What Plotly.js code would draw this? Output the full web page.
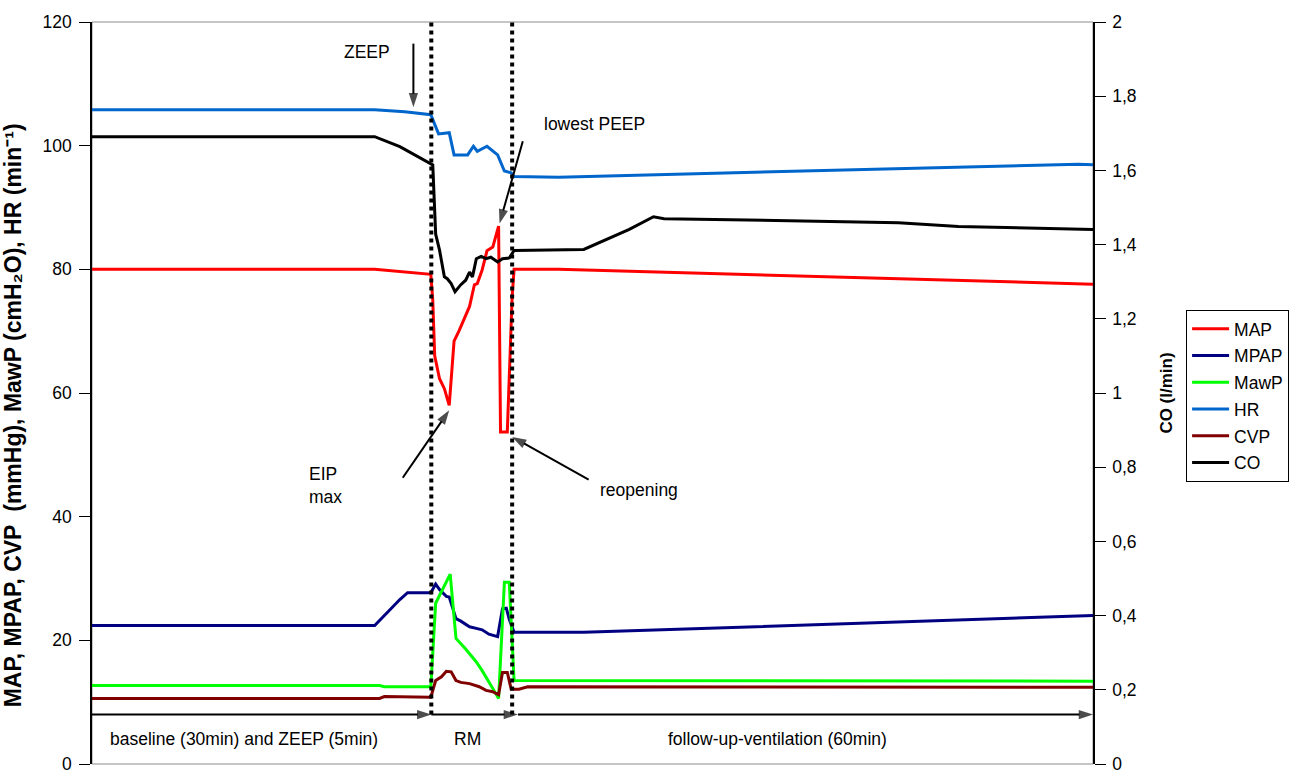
<!DOCTYPE html>
<html>
<head>
<meta charset="utf-8">
<script src="https://cdn.plot.ly/plotly-3.0.1.min.js"></script>
<style>html,body{margin:0;padding:0;background:#fff;}#chart{width:1301px;height:776px;}</style>
</head>
<body>
<div id="chart"></div>
<script>
// time axis in minutes (baseline 30 + ZEEP 5, RM, follow-up 60)
const seriesNames = ['MAP', 'MPAP', 'MawP', 'HR', 'CVP', 'CO'];

const mapT  = [0, 29.2, 35.0, 35.2, 35.4, 35.9, 36.4, 36.9, 37.4, 37.9, 39.0, 39.5, 39.8, 40.3, 40.8, 41.4, 42.0, 42.2, 42.9, 43.4, 43.6, 48.2, 103.4];
const mapV  = [80.0, 80.0, 79.2, 75.0, 66.0, 62.3, 60.7, 58.0, 68.4, 70.0, 74.0, 77.5, 77.7, 79.9, 83.0, 83.6, 87.0, 53.7, 53.7, 75.6, 80.0, 80.0, 77.6];

const mpapT = [0, 29.2, 31.8, 32.6, 35.0, 35.5, 35.9, 36.6, 36.9, 37.6, 38.1, 39.0, 39.8, 40.3, 41.0, 41.9, 42.4, 42.8, 43.1, 43.6, 50.8, 103.4];
const mpapV = [22.4, 22.4, 26.6, 27.7, 27.7, 29.1, 28.2, 27.1, 27.0, 23.5, 23.1, 22.2, 21.9, 21.7, 21.0, 20.6, 25.1, 25.2, 23.4, 21.3, 21.3, 24.0];

const mawpT = [0, 29.7, 30.2, 35.0, 35.5, 37.0, 37.6, 38.6, 39.7, 40.3, 41.4, 42.0, 42.6, 43.1, 43.6, 103.4];
const mawpV = [12.7, 12.7, 12.5, 12.5, 26.0, 30.7, 20.3, 18.6, 16.5, 15.1, 12.2, 10.6, 29.4, 29.4, 13.5, 13.4];

const hrT   = [0, 29.2, 32.3, 35.0, 35.8, 36.9, 37.4, 38.8, 39.4, 39.8, 40.8, 41.9, 42.6, 43.3, 43.6, 48.2, 101.9, 103.4];
const hrV   = [105.8, 105.8, 105.5, 105.0, 101.9, 102.1, 98.5, 98.5, 99.9, 99.1, 99.9, 98.5, 95.9, 95.6, 95.0, 94.9, 97.0, 96.9];

const cvpT  = [0, 29.7, 30.2, 35.0, 35.5, 36.1, 36.6, 37.1, 37.6, 38.1, 39.0, 39.5, 40.0, 40.7, 41.4, 42.0, 42.4, 42.9, 43.3, 44.1, 44.6, 45.0, 103.4];
const cvpV  = [10.6, 10.6, 10.9, 10.8, 13.5, 14.1, 15.0, 14.9, 13.5, 13.2, 13.0, 12.7, 12.5, 11.9, 11.7, 11.2, 14.8, 14.8, 12.1, 12.1, 12.3, 12.5, 12.4];

const coT   = [0, 29.2, 31.8, 35.0, 35.2, 35.5, 35.9, 36.4, 36.7, 37.1, 37.5, 38.1, 38.6, 39.0, 39.3, 39.7, 40.2, 40.7, 41.2, 41.9, 42.4, 43.1, 43.6, 50.8, 55.5, 58.0, 59.1, 83.3, 89.5, 103.4];
const coV   = [1.691, 1.691, 1.664, 1.617, 1.615, 1.428, 1.385, 1.313, 1.308, 1.295, 1.273, 1.292, 1.304, 1.326, 1.313, 1.362, 1.368, 1.362, 1.366, 1.353, 1.362, 1.364, 1.384, 1.387, 1.441, 1.475, 1.470, 1.459, 1.449, 1.441];

// event markers (start / end of recruitment manoeuvre), minutes
const eventTimes = [35.05, 43.4];
// phase bands
const phaseStart = [0, 35.05, 44.0];
const phaseEnd   = [35.05, 44.0, 103.4];
const phaseLabel = ['baseline (30min) and ZEEP (5min)', 'RM', 'follow-up-ventilation (60min)'];
const phaseLabelT = [15.7, 38.8, 70.8];
const phaseArrowY = 8;
const phaseLabelY = 4.0;

// event callouts: text, text position, arrow tail, arrow head
const calloutText  = ['ZEEP', 'lowest PEEP', 'EIP<br>max', 'reopening'];
const calloutTextT = [28.4, 51.9, 22.2, 56.5];
const calloutTextY = [115.2, 103.5, 45.0, 44.3];
const calloutTailT = [33.2, 44.5, 32.1, 51.3];
const calloutTailY = [116.5, 100.7, 46.3, 46.0];
const calloutHeadT = [33.2, 42.1, 36.9, 43.4];
const calloutHeadY = [106.2, 87.4, 57.2, 52.9];

const leftTicks = [0, 20, 40, 60, 80, 100, 120];
const rightTicks = [0, 0.2, 0.4, 0.6, 0.8, 1, 1.2, 1.4, 1.6, 1.8, 2];

// ---- styles ----
const colors = {MAP:'#ff0000', MPAP:'#000080', MawP:'#00ff00', HR:'#0066cc', CVP:'#800000', CO:'#000000'};
const FONT = 'Liberation Sans, Arial, Helvetica, sans-serif';
const TXT = 17.5;

const data = [
  [mapT, mapV, 'MAP', 'y'],
  [mpapT, mpapV, 'MPAP', 'y'],
  [mawpT, mawpV, 'MawP', 'y'],
  [hrT, hrV, 'HR', 'y'],
  [cvpT, cvpV, 'CVP', 'y'],
  [coT, coV, 'CO', 'y2']
].map(function (s) {
  return {
    x: s[0], y: s[1], name: s[2], yaxis: s[3], legendgroup: s[2],
    type: 'scatter', mode: 'lines',
    line: {color: colors[s[2]], width: 3},
    hoverinfo: 'x+y+name'
  };
});

// arrows drawn as line traces with an arrow marker at the head
function arrowTrace(tx, ty, hx, hy) {
  return {
    x: [tx, hx], y: [ty, hy], type: 'scatter', mode: 'lines+markers',
    line: {color: '#000', width: 2},
    marker: {symbol: 'arrow', angleref: 'previous', size: [0, 15], color: '#000',
      line: {width: 0}},
    showlegend: false, hoverinfo: 'skip', yaxis: 'y'
  };
}
for (let i = 0; i < phaseStart.length; i++) {
  data.push(arrowTrace(phaseStart[i], phaseArrowY, phaseEnd[i], phaseArrowY));
}
for (let i = 0; i < calloutText.length; i++) {
  data.push(arrowTrace(calloutTailT[i], calloutTailY[i], calloutHeadT[i], calloutHeadY[i]));
}

const annFont = {family: FONT, size: TXT, color: '#000'};
const annotations = [];
function label(t, y, txt, xanchor) {
  annotations.push({x: t, y: y, xref: 'x', yref: 'y', text: txt, showarrow: false,
    xanchor: xanchor || 'center', yanchor: 'middle', align: 'left', font: annFont});
}
for (let i = 0; i < phaseLabel.length; i++) label(phaseLabelT[i], phaseLabelY, phaseLabel[i]);
for (let i = 0; i < calloutText.length; i++) {
  label(calloutTextT[i], calloutTextY[i], calloutText[i], calloutText[i].indexOf('<br>') >= 0 ? 'left' : 'center');
}

const shapes = [
  {type: 'rect', xref: 'paper', yref: 'paper', x0: 0, x1: 1, y0: 0, y1: 1,
   line: {color: '#8c8c8c', width: 1}, layer: 'below'}
];
eventTimes.forEach(function (t) {
  shapes.push({type: 'line', xref: 'x', yref: 'y', x0: t, x1: t, y0: phaseArrowY, y1: 120,
    line: {color: '#000', width: 4, dash: 'dot'}});
});

const layout = {
  width: 1301, height: 776,
  margin: {l: 92, r: 206, t: 22, b: 12},
  paper_bgcolor: '#fff', plot_bgcolor: '#fff',
  separators: ',.',
  font: {family: FONT, size: TXT, color: '#000'},
  showlegend: true,
  legend: {x: 1.093, y: 0.612, xanchor: 'left', yanchor: 'top',
    bordercolor: '#000', borderwidth: 1, bgcolor: '#fff', itemwidth: 37,
    font: {family: FONT, size: TXT, color: '#000'}, tracegroupgap: 1, traceorder: 'grouped'},
  xaxis: {range: [0, 103.4], showgrid: false, zeroline: false, showticklabels: false,
    ticks: '', showline: false, fixedrange: true},
  yaxis: {range: [0, 120], tickvals: leftTicks, ticks: 'outside', ticklen: 11, tickcolor: '#000',
    showline: true, linecolor: '#000', linewidth: 1.5, showgrid: false, zeroline: false,
    ticklabelstandoff: 4, ticklabeloverflow: 'allow',
    tickfont: {family: FONT, size: TXT},
    title: {text: '<b>MAP, MPAP, CVP&nbsp;&nbsp;(mmHg), MawP (cmH\u2082O), HR (min\u207B\u00B9)</b>&nbsp;&nbsp;&nbsp;&nbsp;&nbsp;&nbsp;&nbsp;',
      font: {family: FONT, size: 23}, standoff: 16}},
  yaxis2: {range: [0, 2], tickvals: rightTicks, overlaying: 'y', side: 'right', ticks: 'outside',
    ticklen: 11, tickcolor: '#000', showline: true, linecolor: '#000', linewidth: 1.5,
    ticklabelstandoff: 3, ticklabeloverflow: 'allow',
    showgrid: false, zeroline: false, tickfont: {family: FONT, size: TXT},
    title: {text: '<b>CO (l/min)</b>', font: {family: FONT, size: 17}, standoff: 24}},
  annotations: annotations,
  shapes: shapes
};

Plotly.newPlot('chart', data, layout, {displayModeBar: false});
</script>
</body>
</html>
